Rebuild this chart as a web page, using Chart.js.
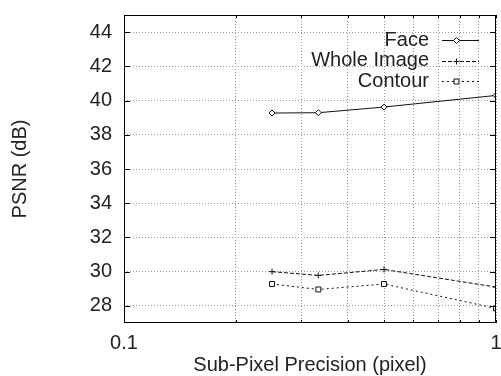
<!DOCTYPE html>
<html>
<head>
<meta charset="utf-8">
<script src="https://cdn.jsdelivr.net/npm/chart.js@4.4.1/dist/chart.umd.min.js"></script>
<style>
  html, body { margin: 0; padding: 0; background: #fff; }
  #wrap { width: 501px; height: 376px; }
</style>
</head>
<body>
<div id="wrap"><canvas id="psnrChart"></canvas></div>
<script>
// Sub-pixel precision (x, log scale) vs PSNR in dB
const precision = [0.25, 0.333, 0.5, 1];
const faceValues = [39.27, 39.29, 39.62, 40.3];
const wholeImageValues = [30.0, 29.78, 30.13, 29.1];
const contourValues = [29.28, 28.96, 29.28, 27.85];

const xTicks = [0.1, 0.2, 0.3, 0.4, 0.5, 0.6, 0.7, 0.8, 0.9, 1];
const xTickLabels = ['0.1', '', '', '', '', '', '', '', '', '1'];
const yTicks = [28, 30, 32, 34, 36, 38, 40, 42, 44];

const FONT = 'Liberation Sans, Arial, Helvetica, sans-serif';

const toPoints = values => values.map((y, i) => ({ x: precision[i], y }));

// frame round the plot with gnuplot-style inward tics
const framePlugin = {
  id: 'frame',
  afterDatasetsDraw(chart) {
    const { ctx, chartArea: a, scales: { x, y } } = chart;
    ctx.save();
    ctx.strokeStyle = '#000';
    ctx.lineWidth = 1;
    ctx.setLineDash([]);
    ctx.beginPath();
    yTicks.forEach(v => {
      const py = Math.round(y.getPixelForValue(v)) + 0.5;
      ctx.moveTo(a.left, py); ctx.lineTo(a.left + 6, py);
      ctx.moveTo(a.right, py); ctx.lineTo(a.right - 6, py);
    });
    xTicks.forEach(v => {
      const px = Math.round(x.getPixelForValue(v)) + 0.5;
      ctx.moveTo(px, a.bottom); ctx.lineTo(px, a.bottom - 3);
      ctx.moveTo(px, a.top); ctx.lineTo(px, a.top + 3);
    });
    ctx.stroke();
    ctx.strokeRect(a.left + 0.5, a.top + 0.5, a.right - a.left - 1, a.bottom - a.top - 1);
    ctx.restore();
  }
};

// key in the top right corner: text right-aligned, sample to its right
const keyPlugin = {
  id: 'key',
  afterDraw(chart) {
    const { ctx, chartArea: a } = chart;
    const textRight = a.right - 67;
    const lineStart = a.right - 54;
    const lineEnd = a.right - 17;
    ctx.save();
    ctx.font = '20px ' + FONT;
    ctx.textAlign = 'right';
    ctx.textBaseline = 'middle';
    chart.data.datasets.forEach((ds, i) => {
      const yy = a.top + 25 + i * 20.5;
      ctx.fillStyle = '#222';
      ctx.fillText(ds.label, textRight, yy);
      ctx.strokeStyle = ds.borderColor;
      ctx.lineWidth = ds.borderWidth;
      ctx.setLineDash(ds.borderDash || []);
      ctx.beginPath();
      ctx.moveTo(lineStart, Math.round(yy) + 0.5);
      ctx.lineTo(lineEnd, Math.round(yy) + 0.5);
      ctx.stroke();
      ctx.setLineDash([]);
      ctx.fillStyle = ds.pointBackgroundColor;
      ctx.strokeStyle = ds.pointBorderColor;
      ctx.lineWidth = 1;
      Chart.helpers.drawPoint(ctx, {
        pointStyle: ds.pointStyle,
        radius: ds.pointRadius,
        rotation: 0,
        borderWidth: 1
      }, (lineStart + lineEnd) / 2 - 4, Math.round(yy) + 0.5);
    });
    ctx.restore();
  }
};

new Chart(document.getElementById('psnrChart'), {
  type: 'line',
  data: {
    datasets: [
      {
        label: 'Face',
        data: toPoints(faceValues),
        borderColor: '#111',
        borderWidth: 1,
        pointStyle: 'rectRot',
        pointRadius: 3,
        pointBackgroundColor: '#fff',
        pointBorderColor: '#111',
        pointBorderWidth: 1
      },
      {
        label: 'Whole Image',
        data: toPoints(wholeImageValues),
        borderColor: '#111',
        borderWidth: 1,
        borderDash: [4, 2],
        pointStyle: 'cross',
        pointRadius: 3,
        pointBackgroundColor: '#fff',
        pointBorderColor: '#111',
        pointBorderWidth: 1
      },
      {
        label: 'Contour',
        data: toPoints(contourValues),
        borderColor: '#111',
        borderWidth: 1,
        borderDash: [2, 3],
        pointStyle: 'rect',
        pointRadius: 3.5,
        pointBackgroundColor: '#fff',
        pointBorderColor: '#111',
        pointBorderWidth: 1
      }
    ]
  },
  options: {
    responsive: true,
    maintainAspectRatio: false,
    animation: false,
    layout: { padding: { top: 15, right: 1, left: 0, bottom: 0 } },
    plugins: {
      legend: { display: false },
      tooltip: { enabled: false }
    },
    scales: {
      x: {
        type: 'logarithmic',
        min: 0.1,
        max: 1,
        afterBuildTicks: scale => {
          scale.ticks = xTicks.map(v => ({ value: v }));
        },
        afterFit: scale => {
          scale.height = 53;
          scale.paddingLeft = 0;
          scale.paddingRight = 0;
        },
        ticks: {
          autoSkip: false,
          maxRotation: 0,
          padding: 8,
          color: '#222',
          font: { family: FONT, size: 20 },
          callback: (value, index) => xTickLabels[index]
        },
        grid: { color: '#999', lineWidth: 1, drawTicks: false },
        border: { display: false, dash: [1, 2] },
        title: {
          display: true,
          text: 'Sub-Pixel Precision (pixel)',
          color: '#222',
          font: { family: FONT, size: 20, lineHeight: 1 },
          padding: { top: 0, bottom: 1 }
        }
      },
      y: {
        min: 27,
        max: 45,
        afterBuildTicks: scale => {
          scale.ticks = yTicks.map(v => ({ value: v }));
        },
        afterFit: scale => {
          scale.width = 124;
          scale.paddingTop = 0;
          scale.paddingBottom = 0;
        },
        ticks: {
          padding: 12,
          color: '#222',
          font: { family: FONT, size: 20 }
        },
        grid: { color: '#999', lineWidth: 1, drawTicks: false },
        border: { display: false, dash: [1, 2] },
        title: {
          display: true,
          text: 'PSNR (dB)',
          color: '#222',
          font: { family: FONT, size: 20 },
          padding: { top: 8, bottom: 0 }
        }
      }
    }
  },
  plugins: [framePlugin, keyPlugin]
});
</script>
</body>
</html>
